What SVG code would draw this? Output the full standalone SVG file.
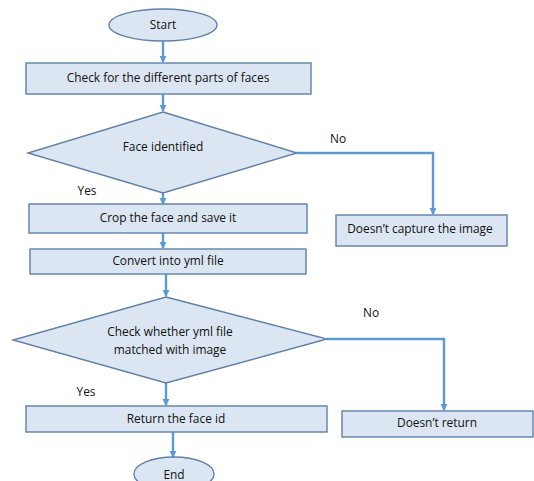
<svg xmlns="http://www.w3.org/2000/svg" width="534" height="481" viewBox="0 0 534 481">
  <defs>
    <marker id="arrow" viewBox="0 0 8 8" refX="7" refY="4" markerWidth="3" markerHeight="3" orient="auto" markerUnits="strokeWidth">
      <path d="M0,0 L8,4 L0,8 Z" fill="#5b9bd5"/>
    </marker>
    <style>
      .shape { fill: #dce6f2; stroke: #5f80a8; stroke-width: 1.4; }
      .label { font-family: "Open Sans", "Liberation Sans", Arial, sans-serif; font-size: 11.9px; fill: #111111; text-anchor: middle; dominant-baseline: middle; }
      .edge { fill: none; stroke: #5b9bd5; stroke-width: 2.4; marker-end: url(#arrow); }
    </style>
  </defs>
  <rect width="534" height="481" fill="#ffffff"/>

  <g id="connectors">
    <path class="edge" d="M163,41 V62"/>
    <path class="edge" d="M163,94 V111"/>
    <path class="edge" d="M163,193 V204"/>
    <path class="edge" d="M297,153 H433 V214"/>
    <path class="edge" d="M163,233 V248"/>
    <path class="edge" d="M166,274 V296"/>
    <path class="edge" d="M327,339 H444 V410"/>
    <path class="edge" d="M166,383 V405"/>
    <path class="edge" d="M173,432 V457"/>
    <text class="label" x="87" y="192">Yes</text>
    <text class="label" x="338" y="140">No</text>
    <text class="label" x="371" y="314">No</text>
    <text class="label" x="86" y="393">Yes</text>
  </g>

  <g id="start">
    <ellipse class="shape" cx="163" cy="25" rx="54" ry="16"/>
    <text class="label" x="163" y="26">Start</text>
  </g>

  <g id="check-parts">
    <rect class="shape" x="26" y="63" width="285" height="31"/>
    <text class="label" x="168" y="79">Check for the different parts of faces</text>
  </g>

  <g id="face-identified">
    <polygon class="shape" points="163,112 297,153 163,193 28,153"/>
    <text class="label" x="163" y="148">Face identified</text>
  </g>

  <g id="no-capture">
    <rect class="shape" x="336" y="215" width="171" height="31"/>
    <text class="label" x="420" y="230">Doesn’t capture the image</text>
  </g>

  <g id="crop-face">
    <rect class="shape" x="29" y="204" width="278" height="29"/>
    <text class="label" x="168" y="219">Crop the face and save it</text>
  </g>

  <g id="convert-yml">
    <rect class="shape" x="30" y="249" width="276" height="25"/>
    <text class="label" x="168" y="262">Convert into yml file</text>
  </g>

  <g id="yml-match">
    <polygon class="shape" points="166,297 327,339 166,383 13,340"/>
    <text class="label" x="170" y="333">Check whether yml file</text>
    <text class="label" x="170" y="351">matched with image</text>
  </g>

  <g id="no-return">
    <rect class="shape" x="342" y="411" width="191" height="26"/>
    <text class="label" x="437" y="424">Doesn’t return</text>
  </g>

  <g id="return-id">
    <rect class="shape" x="26" y="406" width="301" height="26"/>
    <text class="label" x="176" y="420">Return the face id</text>
  </g>

  <g id="end">
    <ellipse class="shape" cx="174" cy="474" rx="40" ry="17"/>
    <text class="label" x="174" y="476">End</text>
  </g>
</svg>
